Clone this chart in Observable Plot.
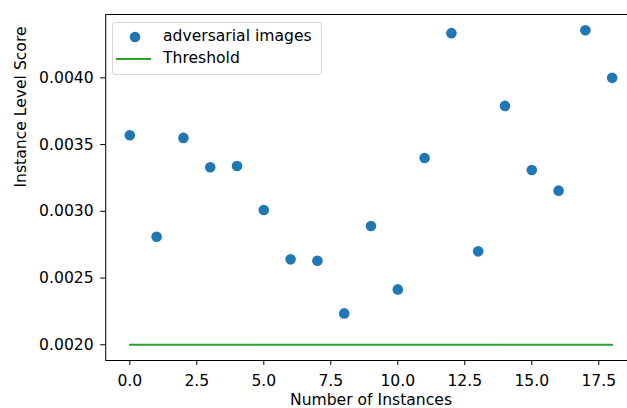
<!DOCTYPE html>
<html>
<head>
<meta charset="utf-8">
<script src="https://cdn.jsdelivr.net/npm/d3@7"></script>
<script src="https://cdn.jsdelivr.net/npm/@observablehq/plot@0.6"></script>
<style>
  html, body { margin: 0; padding: 0; background: #fff; overflow: hidden; }
  #wrap { position: relative; width: 627px; height: 408px; overflow: hidden; }
  #chart { width: 660px; }
  #chart svg { max-width: none !important; display: block; }
  #legend {
    position: absolute; left: 112px; top: 22px; width: 208px; height: 51px;
    border: 1px solid #d6d6d6; border-radius: 3px; background: rgba(255,255,255,0.8);
    font-family: "DejaVu Sans", sans-serif; font-size: 15.6px; color: #000;
  }
  .row { position: absolute; left: 0; height: 20px; display: flex; align-items: center; }
  .lbl { position: absolute; left: 50px; white-space: nowrap; }
</style>
</head>
<body>
<div id="wrap">
  <div id="chart"></div>
  <div id="legend">
    <div class="row" style="top:4px;width:208px;">
      <svg width="40" height="20" style="position:absolute;left:0;top:0"><circle cx="22" cy="10" r="5.3" fill="#1f77b4"/></svg>
      <span class="lbl" style="top:0px">adversarial images</span>
    </div>
    <div class="row" style="top:26px;width:208px;">
      <svg width="44" height="20" style="position:absolute;left:0;top:0"><line x1="3" x2="38" y1="10" y2="10" stroke="#2ca02c" stroke-width="2"/></svg>
      <span class="lbl" style="top:0px">Threshold</span>
    </div>
  </div>
</div>
<script>
const instances = [0,1,2,3,4,5,6,7,8,9,10,11,12,13,14,15,16,17,18];
const scores = [0.00357,0.00281,0.00355,0.00333,0.00334,0.00301,0.00264,0.00263,0.002235,0.00289,0.002415,0.00340,0.004335,0.00270,0.00379,0.00331,0.003155,0.004357,0.00400];
const threshold = 0.0020;
const xTicks = [0,2.5,5,7.5,10,12.5,15,17.5];
const yTicks = [0.0020,0.0025,0.0030,0.0035,0.0040];
const xLabel = "Number of Instances";
const yLabel = "Instance Level Score";

const points = instances.map((d,i) => ({x: d, y: scores[i]}));
const thresholdLine = instances.map(d => ({x: d, y: threshold}));

const xmin = d3.min(instances), xmax = d3.max(instances);
const ymin = Math.min(d3.min(scores), threshold), ymax = d3.max(scores);
const xm = (xmax - xmin) * 0.05, ym = (ymax - ymin) * 0.05;

const chart = Plot.plot({
  width: 660,
  height: 408,
  marginLeft: 105.2,
  marginRight: 24.2,
  marginTop: 14,
  marginBottom: 48,
  style: {fontFamily: "DejaVu Sans, sans-serif", fontSize: "15.6px", color: "#000", background: "#fff", maxWidth: "none"},
  x: {domain: [xmin - xm, xmax + xm]},
  y: {domain: [ymin - ym, ymax + ym]},
  marks: [
    Plot.frame({stroke: "#000", strokeWidth: 1}),
    Plot.axisX({ticks: xTicks, tickFormat: d => d.toFixed(1), tickSize: 5, tickPadding: 9, label: null, fontSize: 15.6, stroke: "#000"}),
    Plot.axisY({ticks: yTicks, tickFormat: d => d.toFixed(4), tickSize: 5, tickPadding: 7, label: null, fontSize: 15.6, stroke: "#000"}),
    Plot.lineY(thresholdLine, {x: "x", y: "y", stroke: "#2ca02c", strokeWidth: 2}),
    Plot.dot(points, {x: "x", y: "y", r: 5.3, fill: "#1f77b4"}),
    Plot.text([xLabel], {text: d => d, frameAnchor: "bottom", dy: 39.5, fontSize: 15.6, lineAnchor: "middle", fill: "#000"}),
    Plot.text([yLabel], {text: d => d, frameAnchor: "left", rotate: -90, dx: -84.8, fontSize: 15.6, lineAnchor: "middle", fill: "#000"})
  ]
});
document.getElementById("chart").appendChild(chart);
</script>
</body>
</html>
